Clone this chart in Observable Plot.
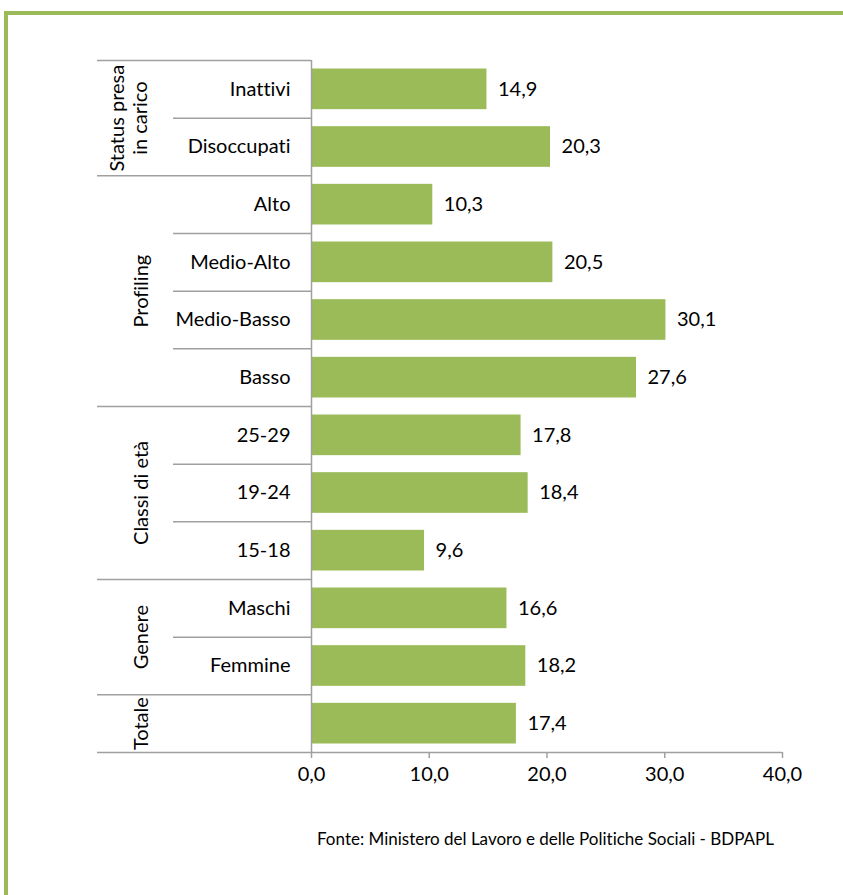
<!DOCTYPE html>
<html><head><meta charset="utf-8">
<script src="https://cdn.jsdelivr.net/npm/d3@7"></script>
<script src="https://cdn.jsdelivr.net/npm/@observablehq/plot@0.6"></script>
<style>
body{margin:0;background:#fff;font-family:Lato,sans-serif;}
#frame{position:absolute;left:4px;top:11px;width:839px;height:884px;border-top:4px solid #9BBB59;border-left:4px solid #9BBB59;box-sizing:border-box;}
#chart{position:absolute;left:0;top:0;}
#caption{position:absolute;left:317px;top:828px;font-size:17px;color:#000;font-family:Lato,sans-serif;font-variant-ligatures:none;white-space:nowrap;}
svg text{font-variant-ligatures:none;}
</style></head><body>
<div id="frame"></div><div id="chart"></div>
<div id="caption">Fonte: Ministero del Lavoro e delle Politiche Sociali - BDPAPL</div>
<script>
const categories = ["Inattivi","Disoccupati","Alto","Medio-Alto","Medio-Basso","Basso","25-29","19-24","15-18","Maschi","Femmine",""];
const values = [14.9,20.3,10.3,20.5,30.1,27.6,17.8,18.4,9.6,16.6,18.2,17.4];
const groups = ["Status presa\nin carico","Profiling","Classi di età","Genere","Totale"];
const groupSizes = [2,4,3,2,1];
const xTicks = [0,10,20,30,40];

const fmt = v => v.toFixed(1).replace(".", ",");
const rows = categories.map((c,i)=>({i, label:c, value:values[i]}));
let start = 0;
const groupData = groups.map((g,k)=>{const d={g, mid:start+groupSizes[k]/2, start}; start+=groupSizes[k]; return d;});
const boundaries = groupData.map(d=>d.start).concat([categories.length]);
const inner = d3.range(1, categories.length).filter(i=>!boundaries.includes(i));
const lineColor = "#a0a0a0";

const chart = Plot.plot({
  width:843, height:800,
  marginLeft:311, marginRight:61, marginTop:60, marginBottom:48,
  x:{type:"linear", domain:[0,40], axis:null, label:null},
  y:{type:"linear", domain:[0,categories.length], reverse:true, axis:null, label:null},
  style:{fontFamily:"Lato, sans-serif", fontSize:"20px", color:"#000", background:"transparent"},
  marks:[
    Plot.rectX(rows, {x:"value", y1:d=>d.i, y2:d=>d.i+1, insetTop:8.5, insetBottom:8.5, fill:"#9BBB59"}),
    Plot.text(rows, {x:"value", y:d=>d.i+0.5, text:d=>fmt(d.value), textAnchor:"start", dx:11, fill:"#000", fontSize:20}),
    Plot.axisY(rows.map(d=>d.i+0.5), {anchor:"left", tickSize:0, tickPadding:21, tickFormat:v=>categories[Math.floor(v)], fill:"#000", fontSize:20, label:null}),
    Plot.axisY(boundaries, {anchor:"left", tickSize:214, tickPadding:0, tickFormat:()=>"", stroke:lineColor, strokeWidth:1.5, label:null}),
    Plot.axisY(inner, {anchor:"left", tickSize:138, tickPadding:0, tickFormat:()=>"", stroke:lineColor, strokeWidth:1.5, label:null}),
    Plot.ruleX([0], {stroke:lineColor, strokeWidth:1.5}),
    Plot.ruleY([categories.length], {stroke:lineColor, strokeWidth:1.5}),
    Plot.axisX(xTicks, {anchor:"bottom", tickSize:6, tickPadding:8, tickFormat:fmt, stroke:lineColor, strokeWidth:1.5, fill:"#000", fontSize:20, label:null}),
    Plot.text(groupData.filter(d=>!d.g.includes("\n")), {frameAnchor:"left", y:"mid", text:"g", rotate:-90, textAnchor:"middle", dx:-170, fill:"#000", fontSize:20}),
    Plot.text(groupData.filter(d=>d.g.includes("\n")), {frameAnchor:"left", y:"mid", text:"g", rotate:-90, textAnchor:"middle", dx:-183, lineHeight:1.15, fill:"#000", fontSize:20})
  ]
});
document.getElementById("chart").appendChild(chart);
</script>
</body></html>
